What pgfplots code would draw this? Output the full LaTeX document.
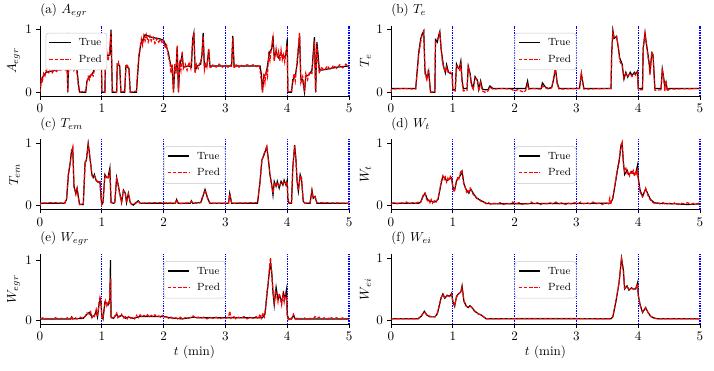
\documentclass[border=0pt]{standalone}
\usepackage{pgfplots}
\pgfplotsset{compat=1.18}
\definecolor{predred}{RGB}{255,0,0}
\definecolor{guideblue}{RGB}{0,0,255}
\pgfplotsset{
  panel/.style={
    scale only axis, width=236.4pt, height=53.6pt,
    xmin=0, xmax=5, ymin=-0.06, ymax=1.06,
    xtick={0,1,2,3,4,5}, ytick={0,1},
    axis x line*=bottom, axis y line*=left,
    axis line style={-, line width=0.6pt},
    tick align=outside, major tick length=2.7pt,
    tick style={black, line width=0.6pt},
    extra x ticks={1,2,3,4,5},
    extra x tick labels={},
    extra x tick style={grid=major, major tick length=0pt, major grid style={guideblue, line width=0.9pt, dash pattern=on 1.1pt off 0.8pt}},
    title style={at={(axis description cs:0,1)}, anchor=base west, inner sep=0pt, yshift=3.4pt},
    ylabel style={at={(axis description cs:-0.064,0.5)}, anchor=south, inner sep=0pt},
    legend style={font=\footnotesize, draw=black!22, rounded corners=2pt, fill=white, inner xsep=2.2pt, inner ysep=2.6pt, row sep=2.5pt, nodes={inner sep=1.6pt}, at={(axis description cs:0.5,0.9)}, anchor=north},
    legend cell align=left,
    legend image code/.code={\path (0pt,0pt) (20.5pt,0pt); \draw[##1, line width=1.1pt] (0pt,0.4pt) -- (16.5pt,0.4pt);},
    anchor=south west,
  },
  truel/.style={black, line width=0.9pt},
  predl/.style={predred, line width=0.9pt, dash pattern=on 2.8pt off 1.2pt},
  bottomrow/.style={xlabel={$t$ (min)}, xlabel style={at={(axis description cs:0.5,0)}, anchor=north, inner sep=0pt, yshift=-15.8pt}},
}
\begin{document}
\begin{tikzpicture}
\path[use as bounding box] (0,0) rectangle (546.2pt,-283.05pt);

% (a)
\begin{axis}[panel, at={(30.6pt,-73.44pt)}, title={(a) $A_{egr}$}, ylabel={$A_{egr}$},
  legend style={at={(axis description cs:0.018,0.9)}, anchor=north west}]
\addplot[truel] coordinates {
(0,0.0) (0.02,0.2) (0.05,0.25) (0.1,0.32) (0.2,0.34) (0.3,0.36) (0.4,0.38) (0.44,0.39) (0.45,0.0) (0.46,0.42) (0.5,0.45) (0.55,0.42) (0.6,0.35) (0.62,0.15) (0.64,0.0) (0.74,0.0) (0.76,0.18) (0.8,0.25) (0.85,0.3) (0.9,0.42) (0.95,0.5) (0.98,0.6) (0.995,0.55) (1.0,0.0) (1.05,0.0) (1.06,0.6) (1.1,0.58) (1.13,0.6) (1.15,1.0) (1.17,0.0) (1.24,0.0) (1.25,0.45) (1.29,0.42) (1.31,0.0) (1.37,0.0) (1.39,0.42) (1.44,0.38) (1.46,0.0) (1.56,0.0) (1.6,0.55) (1.63,0.78) (1.67,0.85) (1.7,0.92) (1.75,0.9) (1.8,0.88) (1.85,0.87) (1.9,0.86) (1.95,0.85) (2.0,0.83) (2.05,0.72) (2.08,0.62) (2.1,0.5) (2.12,0.42) (2.14,0.38) (2.16,0.0) (2.18,0.4) (2.2,0.35) (2.22,0.72) (2.24,0.0) (2.26,0.42) (2.3,0.6) (2.32,0.4) (2.4,0.42) (2.45,0.4) (2.47,0.85) (2.49,0.95) (2.51,0.35) (2.55,0.42) (2.6,0.45) (2.62,0.6) (2.64,0.95) (2.66,0.4) (2.7,0.42) (2.73,0.68) (2.75,0.42) (3.1,0.42) (3.12,0.9) (3.14,0.42) (3.56,0.42) (3.58,0.3) (3.6,0.0) (3.62,0.25) (3.66,0.3) (3.7,0.55) (3.72,0.65) (3.75,0.7) (3.77,0.9) (3.79,0.55) (3.82,0.65) (3.86,0.55) (3.9,0.62) (3.94,0.55) (3.98,0.6) (4.0,0.85) (4.01,0.0) (4.07,0.0) (4.09,0.2) (4.13,0.25) (4.16,0.45) (4.2,0.92) (4.22,0.2) (4.25,0.2) (4.28,0.0) (4.3,0.25) (4.35,0.28) (4.4,0.35) (4.44,0.88) (4.46,0.0) (4.48,0.8) (4.5,0.6) (4.52,0.35) (4.6,0.36) (4.7,0.38) (4.8,0.4) (4.9,0.41) (5.0,0.42)};
\addlegendentry{True}
\addplot[predl] coordinates {
(0,0.0) (0.01,0.1) (0.02,0.22) (0.04,0.18) (0.06,0.3) (0.08,0.26) (0.1,0.35) (0.13,0.3) (0.16,0.34) (0.2,0.31) (0.23,0.36) (0.27,0.33) (0.3,0.38) (0.34,0.34) (0.38,0.4) (0.42,0.35) (0.44,0.4) (0.45,0.0) (0.455,0.95) (0.46,0.3) (0.48,0.45) (0.5,0.38) (0.52,0.48) (0.55,0.35) (0.58,0.4) (0.6,0.3) (0.62,0.1) (0.64,0.0) (0.74,0.02) (0.76,0.15) (0.78,0.25) (0.8,0.2) (0.83,0.3) (0.86,0.26) (0.89,0.4) (0.92,0.35) (0.95,0.5) (0.97,0.45) (0.99,0.62) (1.0,0.02) (1.05,0.0) (1.06,0.55) (1.08,0.65) (1.1,0.5) (1.12,0.62) (1.15,0.95) (1.17,0.02) (1.24,0.0) (1.25,0.42) (1.27,0.48) (1.29,0.38) (1.31,0.0) (1.37,0.02) (1.39,0.4) (1.41,0.45) (1.44,0.35) (1.46,0.0) (1.56,0.02) (1.58,0.35) (1.6,0.6) (1.62,0.7) (1.64,0.85) (1.66,0.75) (1.68,0.9) (1.7,0.82) (1.72,0.92) (1.75,0.8) (1.78,0.9) (1.8,0.82) (1.83,0.88) (1.86,0.78) (1.89,0.86) (1.92,0.8) (1.95,0.85) (1.98,0.78) (2.0,0.82) (2.03,0.7) (2.05,0.75) (2.08,0.55) (2.1,0.5) (2.12,0.3) (2.14,0.45) (2.16,0.0) (2.18,0.45) (2.2,0.3) (2.22,0.75) (2.24,0.0) (2.26,0.45) (2.28,0.35) (2.3,0.65) (2.32,0.38) (2.35,0.45) (2.38,0.35) (2.41,0.48) (2.44,0.38) (2.47,0.8) (2.49,0.95) (2.51,0.3) (2.53,0.45) (2.56,0.38) (2.59,0.48) (2.62,0.55) (2.64,0.9) (2.66,0.35) (2.68,0.45) (2.7,0.4) (2.73,0.7) (2.75,0.38) (2.8,0.44) (2.85,0.4) (2.9,0.45) (2.95,0.4) (3.0,0.44) (3.05,0.39) (3.1,0.45) (3.12,0.88) (3.14,0.38) (3.18,0.45) (3.22,0.4) (3.26,0.43) (3.3,0.41) (3.35,0.44) (3.4,0.42) (3.45,0.44) (3.5,0.41) (3.55,0.43) (3.58,0.2) (3.6,0.0) (3.62,0.3) (3.64,0.15) (3.66,0.35) (3.68,0.25) (3.7,0.6) (3.72,0.5) (3.75,0.75) (3.77,0.88) (3.79,0.5) (3.82,0.7) (3.84,0.55) (3.86,0.65) (3.88,0.5) (3.9,0.68) (3.92,0.52) (3.94,0.6) (3.96,0.48) (3.98,0.65) (4.0,0.75) (4.01,0.0) (4.07,0.02) (4.09,0.15) (4.11,0.3) (4.13,0.18) (4.16,0.5) (4.2,0.95) (4.22,0.15) (4.25,0.25) (4.28,0.0) (4.3,0.3) (4.33,0.2) (4.36,0.32) (4.4,0.3) (4.44,0.82) (4.46,0.0) (4.48,0.75) (4.5,0.5) (4.52,0.3) (4.55,0.4) (4.6,0.35) (4.65,0.42) (4.7,0.36) (4.75,0.43) (4.8,0.38) (4.85,0.44) (4.9,0.39) (4.95,0.45) (5.0,0.4)};
\addlegendentry{Pred}
\end{axis}

% (b)
\begin{axis}[panel, at={(299.1pt,-73.44pt)}, title={(b) $T_e$}, ylabel={$T_e$}]
\addplot[truel] coordinates {
(0,0.0) (0.01,0.06) (0.4,0.06) (0.42,0.3) (0.45,0.65) (0.48,0.85) (0.5,0.92) (0.53,0.98) (0.55,0.34) (0.58,0.22) (0.6,0.3) (0.61,0.34) (0.64,0.0) (0.71,0.0) (0.72,0.84) (0.75,0.8) (0.77,0.9) (0.79,0.97) (0.81,0.7) (0.83,0.55) (0.85,0.42) (0.88,0.31) (0.9,0.44) (0.93,0.32) (0.96,0.3) (0.99,0.3) (1.0,0.04) (1.04,0.04) (1.06,0.45) (1.09,0.38) (1.11,0.4) (1.13,0.5) (1.15,0.2) (1.17,0.06) (1.23,0.06) (1.25,0.42) (1.28,0.3) (1.3,0.15) (1.33,0.06) (1.36,0.25) (1.4,0.18) (1.42,0.04) (1.45,0.18) (1.48,0.05) (1.52,0.04) (1.57,0.04) (1.6,0.1) (1.65,0.06) (2.18,0.06) (2.21,0.18) (2.23,0.06) (2.43,0.06) (2.45,0.15) (2.5,0.08) (2.55,0.06) (2.6,0.08) (2.63,0.2) (2.66,0.38) (2.69,0.15) (2.72,0.06) (3.05,0.06) (3.08,0.3) (3.12,0.06) (3.56,0.06) (3.57,0.6) (3.59,0.99) (3.61,0.86) (3.65,0.89) (3.68,0.7) (3.7,0.55) (3.74,0.45) (3.77,0.21) (3.8,0.32) (3.83,0.24) (3.87,0.32) (3.9,0.27) (3.94,0.32) (3.96,0.29) (3.99,0.34) (4.0,0.06) (4.07,0.06) (4.08,0.7) (4.11,0.94) (4.15,0.66) (4.18,0.45) (4.19,0.3) (4.22,0.63) (4.24,0.6) (4.27,0.06) (4.37,0.06) (4.39,0.37) (4.42,0.18) (4.43,0.08) (4.45,0.16) (4.47,0.04) (4.5,0.06) (5.0,0.06)};
\addlegendentry{True}
\addplot[predl] coordinates {
(0,0.0) (0.01,0.05) (0.2,0.06) (0.4,0.05) (0.42,0.28) (0.45,0.62) (0.48,0.8) (0.5,0.9) (0.53,0.97) (0.55,0.3) (0.58,0.2) (0.6,0.33) (0.61,0.3) (0.64,0.0) (0.71,0.01) (0.72,0.8) (0.75,0.85) (0.77,0.88) (0.79,0.98) (0.81,0.72) (0.83,0.5) (0.85,0.4) (0.88,0.33) (0.9,0.4) (0.93,0.3) (0.96,0.32) (0.99,0.28) (1.0,0.03) (1.04,0.02) (1.06,0.42) (1.09,0.4) (1.11,0.36) (1.13,0.45) (1.15,0.15) (1.17,0.02) (1.23,0.03) (1.25,0.4) (1.28,0.28) (1.3,0.12) (1.33,0.04) (1.36,0.22) (1.4,0.2) (1.42,0.02) (1.45,0.15) (1.48,0.02) (1.52,0.0) (1.57,0.02) (1.6,0.08) (1.65,0.05) (1.8,0.06) (1.95,0.05) (2.0,0.02) (2.05,0.04) (2.1,0.02) (2.15,0.0) (2.18,0.03) (2.21,0.12) (2.23,0.05) (2.3,0.06) (2.43,0.05) (2.45,0.1) (2.5,0.07) (2.55,0.05) (2.6,0.07) (2.63,0.22) (2.66,0.4) (2.69,0.12) (2.72,0.05) (3.05,0.06) (3.08,0.3) (3.12,0.05) (3.56,0.06) (3.57,0.55) (3.59,0.97) (3.61,0.88) (3.65,0.9) (3.68,0.72) (3.7,0.5) (3.74,0.42) (3.77,0.22) (3.8,0.3) (3.83,0.26) (3.87,0.3) (3.9,0.25) (3.94,0.3) (3.96,0.27) (3.99,0.32) (4.0,0.04) (4.07,0.04) (4.08,0.68) (4.11,0.95) (4.15,0.62) (4.18,0.42) (4.19,0.28) (4.22,0.65) (4.24,0.58) (4.27,0.03) (4.37,0.04) (4.39,0.38) (4.42,0.15) (4.43,0.02) (4.45,0.18) (4.47,0.02) (4.5,0.05) (5.0,0.06)};
\addlegendentry{Pred}
\end{axis}

% (c)
\begin{axis}[panel, at={(30.6pt,-160.27pt)}, title={(c) $T_{em}$}, ylabel={$T_{em}$}]
\addplot[truel] coordinates {
(0,0.0) (0.01,0.04) (0.4,0.04) (0.43,0.1) (0.46,0.5) (0.49,0.7) (0.51,0.88) (0.53,0.92) (0.55,0.3) (0.58,0.2) (0.6,0.28) (0.62,0.15) (0.64,0.02) (0.7,0.02) (0.73,0.7) (0.75,0.72) (0.78,1.0) (0.81,0.75) (0.84,0.5) (0.86,0.45) (0.88,0.5) (0.91,0.4) (0.94,0.38) (0.97,0.38) (0.99,0.1) (1.0,0.02) (1.02,0.05) (1.05,0.5) (1.08,0.45) (1.1,0.45) (1.13,0.6) (1.15,0.05) (1.19,0.04) (1.21,0.05) (1.24,0.45) (1.27,0.3) (1.29,0.2) (1.32,0.05) (1.35,0.25) (1.38,0.2) (1.4,0.05) (1.43,0.2) (1.46,0.05) (1.48,0.03) (1.51,0.01) (1.56,0.05) (1.59,0.08) (1.62,0.04) (2.19,0.04) (2.21,0.1) (2.24,0.04) (2.43,0.04) (2.45,0.08) (2.47,0.04) (2.6,0.05) (2.62,0.1) (2.67,0.26) (2.72,0.1) (2.75,0.04) (3.05,0.04) (3.07,0.2) (3.1,0.04) (3.52,0.04) (3.56,0.39) (3.59,0.73) (3.62,0.8) (3.67,0.94) (3.7,0.7) (3.72,0.5) (3.75,0.33) (3.77,0.17) (3.79,0.39) (3.82,0.31) (3.84,0.39) (3.87,0.28) (3.9,0.39) (3.93,0.33) (3.95,0.41) (3.98,0.33) (4.0,0.41) (4.01,0.12) (4.03,0.04) (4.07,0.04) (4.09,0.6) (4.12,0.97) (4.14,0.76) (4.16,0.39) (4.18,0.23) (4.21,0.5) (4.23,0.44) (4.26,0.07) (4.29,0.04) (4.37,0.04) (4.4,0.25) (4.42,0.12) (4.45,0.15) (4.48,0.04) (5.0,0.04)};
\addlegendentry{True}
\addplot[predl] coordinates {
(0,0.0) (0.01,0.04) (0.2,0.05) (0.4,0.04) (0.43,0.12) (0.46,0.52) (0.49,0.68) (0.51,0.86) (0.53,0.94) (0.55,0.32) (0.58,0.18) (0.6,0.27) (0.62,0.13) (0.64,0.02) (0.7,0.03) (0.73,0.68) (0.75,0.74) (0.78,0.98) (0.81,0.77) (0.84,0.48) (0.86,0.46) (0.88,0.48) (0.91,0.42) (0.94,0.37) (0.97,0.39) (0.99,0.12) (1.0,0.02) (1.02,0.06) (1.05,0.48) (1.08,0.46) (1.1,0.43) (1.13,0.55) (1.15,0.06) (1.19,0.04) (1.21,0.06) (1.24,0.43) (1.27,0.32) (1.29,0.18) (1.32,0.06) (1.35,0.24) (1.38,0.21) (1.4,0.05) (1.43,0.19) (1.46,0.06) (1.48,0.02) (1.51,0.02) (1.56,0.06) (1.59,0.07) (1.62,0.04) (1.9,0.05) (2.19,0.04) (2.21,0.09) (2.24,0.03) (2.43,0.05) (2.45,0.07) (2.47,0.04) (2.6,0.05) (2.62,0.12) (2.67,0.25) (2.72,0.09) (2.75,0.04) (3.05,0.04) (3.07,0.19) (3.1,0.04) (3.52,0.05) (3.56,0.37) (3.59,0.72) (3.62,0.82) (3.67,0.95) (3.7,0.68) (3.72,0.52) (3.75,0.31) (3.77,0.2) (3.79,0.37) (3.82,0.33) (3.84,0.37) (3.87,0.3) (3.9,0.37) (3.93,0.35) (3.95,0.39) (3.98,0.35) (4.0,0.39) (4.01,0.1) (4.03,0.04) (4.07,0.05) (4.09,0.62) (4.12,0.96) (4.14,0.74) (4.16,0.4) (4.18,0.25) (4.21,0.48) (4.23,0.45) (4.26,0.06) (4.29,0.04) (4.37,0.05) (4.4,0.24) (4.42,0.13) (4.45,0.14) (4.48,0.05) (5.0,0.04)};
\addlegendentry{Pred}
\end{axis}

% (d)
\begin{axis}[panel, at={(299.1pt,-160.27pt)}, title={(d) $W_t$}, ylabel={$W_t$}]
\addplot[truel] coordinates {
(0,0.04) (0.45,0.04) (0.48,0.06) (0.52,0.15) (0.55,0.2) (0.59,0.1) (0.63,0.07) (0.71,0.06) (0.76,0.1) (0.81,0.35) (0.84,0.47) (0.87,0.45) (0.9,0.4) (0.94,0.42) (0.98,0.45) (1.0,0.3) (1.03,0.25) (1.06,0.4) (1.1,0.45) (1.13,0.5) (1.15,0.55) (1.18,0.35) (1.22,0.25) (1.26,0.2) (1.29,0.27) (1.33,0.2) (1.38,0.13) (1.46,0.08) (1.54,0.04) (1.62,0.03) (2.5,0.035) (3.53,0.04) (3.56,0.05) (3.59,0.12) (3.62,0.3) (3.67,0.6) (3.69,0.7) (3.72,0.95) (3.74,1.0) (3.76,0.7) (3.78,0.5) (3.82,0.57) (3.84,0.5) (3.88,0.52) (3.9,0.55) (3.94,0.5) (3.96,0.52) (3.99,0.65) (4.0,0.45) (4.03,0.25) (4.07,0.15) (4.12,0.27) (4.16,0.18) (4.2,0.1) (4.26,0.05) (4.31,0.04) (4.6,0.03) (4.8,0.02) (5.0,0.03)};
\addlegendentry{True}
\addplot[predl] coordinates {
(0,0.03) (0.05,0.05) (0.1,0.03) (0.15,0.05) (0.2,0.04) (0.25,0.06) (0.3,0.03) (0.35,0.05) (0.4,0.04) (0.45,0.06) (0.48,0.05) (0.52,0.17) (0.55,0.2) (0.57,0.12) (0.59,0.08) (0.61,0.1) (0.63,0.05) (0.65,0.1) (0.67,0.04) (0.7,0.08) (0.73,0.06) (0.76,0.12) (0.78,0.2) (0.81,0.38) (0.84,0.48) (0.86,0.42) (0.88,0.46) (0.9,0.38) (0.92,0.44) (0.94,0.4) (0.96,0.47) (0.98,0.44) (1.0,0.32) (1.02,0.22) (1.04,0.3) (1.06,0.38) (1.08,0.46) (1.1,0.43) (1.12,0.52) (1.14,0.57) (1.16,0.48) (1.18,0.33) (1.2,0.3) (1.22,0.22) (1.24,0.26) (1.26,0.22) (1.28,0.28) (1.3,0.24) (1.33,0.18) (1.36,0.16) (1.38,0.12) (1.42,0.1) (1.46,0.07) (1.5,0.06) (1.54,0.03) (1.58,0.05) (1.62,0.02) (1.67,0.04) (1.72,0.03) (1.77,0.05) (1.82,0.02) (1.87,0.04) (1.92,0.03) (1.97,0.06) (2.02,0.03) (2.07,0.05) (2.12,0.02) (2.17,0.04) (2.22,0.03) (2.27,0.06) (2.32,0.03) (2.37,0.05) (2.42,0.02) (2.47,0.04) (2.52,0.03) (2.57,0.05) (2.62,0.03) (2.67,0.06) (2.72,0.03) (2.77,0.05) (2.82,0.02) (2.87,0.04) (2.92,0.03) (2.97,0.05) (3.02,0.03) (3.07,0.06) (3.12,0.03) (3.17,0.05) (3.22,0.03) (3.27,0.06) (3.32,0.03) (3.37,0.04) (3.42,0.02) (3.47,0.05) (3.52,0.03) (3.54,0.12) (3.55,0.02) (3.57,0.08) (3.59,0.14) (3.62,0.32) (3.65,0.5) (3.67,0.62) (3.69,0.72) (3.72,0.97) (3.74,1.02) (3.76,0.68) (3.78,0.55) (3.8,0.6) (3.82,0.52) (3.84,0.55) (3.86,0.48) (3.88,0.54) (3.9,0.5) (3.92,0.56) (3.94,0.47) (3.96,0.55) (3.98,0.5) (3.99,0.6) (4.0,0.42) (4.03,0.22) (4.05,0.18) (4.07,0.14) (4.1,0.22) (4.12,0.28) (4.14,0.22) (4.16,0.16) (4.18,0.12) (4.2,0.09) (4.23,0.06) (4.26,0.04) (4.3,0.05) (4.35,0.03) (4.4,0.05) (4.45,0.02) (4.5,0.04) (4.55,0.03) (4.6,0.05) (4.65,0.02) (4.7,0.04) (4.75,0.03) (4.8,0.05) (4.85,0.02) (4.9,0.04) (4.95,0.03) (5.0,0.05)};
\addlegendentry{Pred}
\end{axis}

% (e)
\begin{axis}[panel, bottomrow, at={(30.6pt,-248.1pt)}, ymin=-0.07, ymax=1.1, title={(e) $W_{egr}$}, ylabel={$W_{egr}$}]
\addplot[truel] coordinates {
(0,0.02) (0.5,0.02) (0.51,0.05) (0.53,0.02) (0.7,0.03) (0.76,0.1) (0.8,0.13) (0.84,0.05) (0.88,0.08) (0.91,0.15) (0.93,0.05) (0.96,0.3) (0.98,0.35) (1.0,0.08) (1.02,0.02) (1.05,0.3) (1.08,0.28) (1.1,0.25) (1.13,0.35) (1.14,1.0) (1.15,0.05) (1.19,0.03) (1.24,0.1) (1.27,0.05) (1.32,0.08) (1.38,0.03) (1.43,0.05) (1.51,0.03) (1.62,0.06) (2.0,0.06) (2.1,0.04) (2.3,0.02) (2.48,0.05) (2.55,0.04) (3.6,0.04) (3.64,0.1) (3.67,0.4) (3.71,0.8) (3.73,0.95) (3.75,0.8) (3.77,0.45) (3.79,0.25) (3.82,0.55) (3.85,0.35) (3.88,0.4) (3.91,0.3) (3.94,0.45) (3.96,0.35) (3.99,0.52) (4.0,0.1) (4.02,0.02) (4.07,0.02) (4.1,0.08) (4.13,0.02) (5.0,0.02)};
\addlegendentry{True}
\addplot[predl] coordinates {
(0,0.02) (0.05,0.04) (0.1,0.02) (0.15,0.03) (0.2,0.01) (0.25,0.04) (0.3,0.02) (0.35,0.03) (0.4,0.02) (0.45,0.04) (0.5,0.02) (0.51,0.07) (0.53,0.02) (0.57,0.04) (0.6,0.02) (0.65,0.05) (0.7,0.03) (0.73,0.06) (0.76,0.12) (0.8,0.1) (0.82,0.14) (0.84,0.04) (0.86,0.08) (0.88,0.06) (0.91,0.18) (0.93,0.06) (0.95,0.25) (0.97,0.38) (0.99,0.3) (1.0,0.05) (1.02,0.03) (1.04,0.2) (1.06,0.32) (1.08,0.24) (1.1,0.3) (1.12,0.28) (1.13,0.4) (1.14,0.7) (1.15,0.06) (1.17,0.02) (1.2,0.05) (1.24,0.12) (1.26,0.04) (1.29,0.07) (1.32,0.1) (1.35,0.03) (1.38,0.06) (1.41,0.02) (1.44,0.07) (1.47,0.03) (1.5,0.05) (1.53,0.02) (1.56,0.08) (1.59,0.04) (1.62,0.09) (1.65,0.05) (1.68,0.08) (1.71,0.06) (1.74,0.09) (1.77,0.05) (1.8,0.08) (1.83,0.06) (1.86,0.09) (1.89,0.05) (1.92,0.07) (1.95,0.05) (1.98,0.08) (2.01,0.05) (2.04,0.06) (2.08,0.03) (2.12,0.05) (2.16,0.02) (2.2,0.04) (2.24,0.01) (2.27,0.05) (2.3,0.02) (2.35,0.04) (2.4,0.03) (2.45,0.05) (2.48,0.07) (2.52,0.03) (2.56,0.05) (2.6,0.03) (2.65,0.05) (2.7,0.02) (2.75,0.05) (2.8,0.03) (2.85,0.05) (2.9,0.02) (2.95,0.04) (3.0,0.03) (3.05,0.05) (3.07,0.15) (3.09,0.03) (3.13,0.07) (3.17,0.02) (3.21,0.05) (3.25,0.03) (3.3,0.06) (3.35,0.02) (3.4,0.05) (3.45,0.03) (3.5,0.06) (3.53,0.02) (3.56,0.1) (3.58,0.03) (3.61,0.12) (3.63,0.06) (3.65,0.2) (3.67,0.45) (3.69,0.6) (3.71,0.85) (3.73,1.05) (3.75,0.75) (3.77,0.5) (3.79,0.3) (3.81,0.5) (3.83,0.4) (3.85,0.3) (3.87,0.45) (3.89,0.35) (3.91,0.25) (3.93,0.42) (3.95,0.3) (3.97,0.45) (3.99,0.4) (4.0,0.05) (4.02,0.01) (4.05,0.04) (4.07,0.02) (4.1,0.1) (4.13,0.02) (4.18,0.04) (4.22,0.02) (4.27,0.04) (4.32,0.01) (4.37,0.03) (4.42,0.02) (4.45,0.06) (4.48,0.03) (4.52,0.05) (4.56,0.02) (4.6,0.04) (4.65,0.02) (4.7,0.05) (4.75,0.02) (4.8,0.04) (4.85,0.01) (4.9,0.04) (4.95,0.02) (5.0,0.03)};
\addlegendentry{Pred}
\end{axis}

% (f)
\begin{axis}[panel, bottomrow, at={(299.1pt,-248.1pt)}, ymin=-0.07, ymax=1.06, title={(f) $W_{ei}$}, ylabel={$W_{ei}$}]
\addplot[truel] coordinates {
(0,0.02) (0.44,0.02) (0.49,0.06) (0.54,0.14) (0.58,0.08) (0.63,0.05) (0.71,0.05) (0.75,0.1) (0.81,0.35) (0.84,0.42) (0.87,0.35) (0.91,0.4) (0.95,0.38) (0.98,0.43) (1.0,0.3) (1.03,0.22) (1.06,0.38) (1.09,0.42) (1.13,0.45) (1.15,0.55) (1.18,0.3) (1.22,0.22) (1.25,0.2) (1.28,0.23) (1.31,0.2) (1.35,0.15) (1.41,0.1) (1.46,0.08) (1.5,0.05) (1.54,0.02) (3.56,0.02) (3.59,0.05) (3.64,0.3) (3.69,0.6) (3.73,1.0) (3.76,0.8) (3.78,0.5) (3.82,0.55) (3.85,0.48) (3.89,0.52) (3.92,0.5) (3.96,0.5) (3.99,0.6) (4.0,0.4) (4.03,0.25) (4.07,0.12) (4.12,0.2) (4.16,0.12) (4.2,0.06) (4.26,0.03) (4.31,0.02) (5.0,0.02)};
\addlegendentry{True}
\addplot[predl] coordinates {
(0,0.02) (0.44,0.02) (0.49,0.07) (0.54,0.13) (0.58,0.08) (0.63,0.06) (0.71,0.05) (0.75,0.11) (0.81,0.36) (0.84,0.41) (0.87,0.36) (0.91,0.39) (0.95,0.38) (0.98,0.42) (1.0,0.31) (1.03,0.23) (1.06,0.37) (1.09,0.41) (1.13,0.46) (1.15,0.53) (1.18,0.31) (1.22,0.22) (1.25,0.21) (1.28,0.22) (1.31,0.2) (1.35,0.14) (1.41,0.1) (1.46,0.08) (1.5,0.05) (1.54,0.02) (2.5,0.025) (3.56,0.02) (3.59,0.06) (3.64,0.31) (3.69,0.6) (3.73,0.99) (3.76,0.8) (3.78,0.51) (3.82,0.54) (3.85,0.49) (3.89,0.51) (3.92,0.5) (3.96,0.51) (3.99,0.58) (4.0,0.41) (4.03,0.24) (4.07,0.13) (4.12,0.2) (4.16,0.12) (4.2,0.06) (4.26,0.03) (4.31,0.02) (5.0,0.02)};
\addlegendentry{Pred}
\end{axis}
\end{tikzpicture}
\end{document}
